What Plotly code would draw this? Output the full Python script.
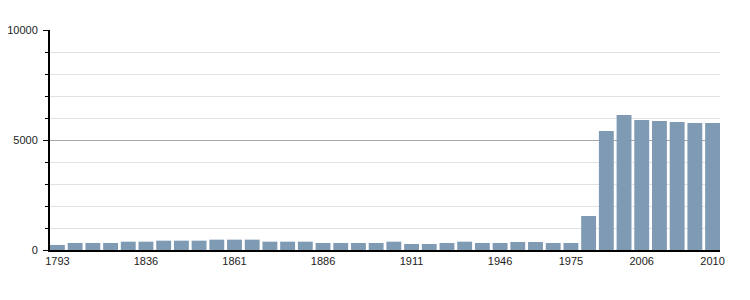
import plotly.graph_objects as go

years = ["1793","1800","1806","1821","1831","1836","1841","1846","1851","1856",
         "1861","1866","1872","1876","1881","1886","1891","1896","1901","1906",
         "1911","1921","1926","1931","1936","1946","1954","1962","1968","1975",
         "1982","1990","1999","2006","2007","2008","2009","2010"]
population = [230,318,318,318,378,378,424,424,424,470,
              470,470,378,378,378,318,318,318,318,378,
              273,273,318,378,318,318,364,364,318,318,
              1545,5409,6136,5909,5864,5818,5773,5773]
tick_years = ["1793","1836","1861","1886","1911","1946","1975","2006","2010"]
y_ticks = [0, 5000, 10000]
y_labels = ["0", "5000", "10000"]

gap = 0.16
n = len(years)

fig = go.Figure(go.Bar(x=years, y=population, marker=dict(color="#7f9ab3", line=dict(width=0)),
                       hoverinfo="x+y"))
fig.update_layout(
    width=750, height=300,
    margin=dict(l=50, r=30, t=30, b=50, autoexpand=False),
    paper_bgcolor="white", plot_bgcolor="white",
    bargap=gap, showlegend=False,
    font=dict(family="Liberation Sans, Arial, sans-serif", size=11, color="#222"),
)
fig.update_xaxes(type="category", tickmode="array", tickvals=tick_years, ticktext=tick_years,
                 range=[-0.5 + gap / 2, n - 0.5 - gap / 2], automargin=False,
                 showline=True, linecolor="black", linewidth=2, ticks="", showgrid=False,
                 tickfont=dict(size=11, color="#222"), ticklabelstandoff=0)
fig.update_yaxes(range=[0, 10000], tickmode="array", tickvals=y_ticks, ticktext=y_labels,
                 automargin=False, ticks="outside", ticklen=5,
                 tickcolor="black", showline=True, linecolor="black", linewidth=2,
                 showgrid=True, gridcolor="#a8a8a8", gridwidth=1, zeroline=False,
                 tickfont=dict(size=11, color="#222"), ticklabelstandoff=3,
                 minor=dict(dtick=1000, tick0=0, ticks="outside", ticklen=3, tickcolor="black",
                            showgrid=True, gridcolor="#e2e2e2", gridwidth=1))
fig.write_html("out.html")
